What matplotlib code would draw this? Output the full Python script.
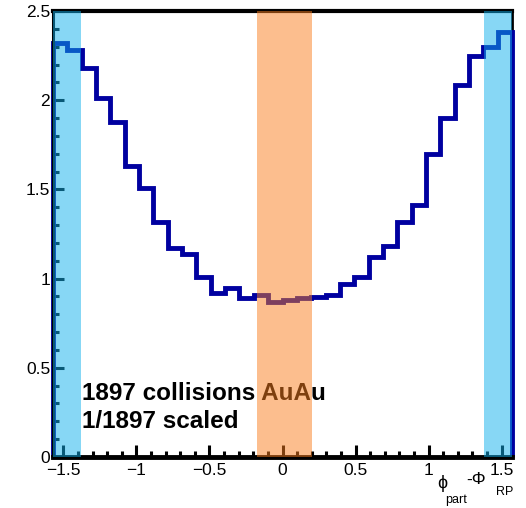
import numpy as np
import matplotlib
matplotlib.use("Agg")
import matplotlib.pyplot as plt
from matplotlib.ticker import MultipleLocator

plt.rcParams['font.family'] = ['Liberation Sans', 'DejaVu Sans']

# ---- data ----
n_bins = 32
x_min, x_max = -np.pi / 2, np.pi / 2
bin_values = [2.32, 2.28, 2.18, 2.01, 1.88, 1.63, 1.51, 1.32, 1.17, 1.14,
              1.01, 0.92, 0.95, 0.89, 0.91, 0.87, 0.88, 0.89, 0.895, 0.91,
              0.97, 1.01, 1.12, 1.18, 1.32, 1.41, 1.70, 1.90, 2.085, 2.25,
              2.30, 2.38]
blue_bands = [(-np.pi / 2, -1.38), (1.38, np.pi / 2)]
orange_band = (-0.175, 0.20)
y_max = 2.5
text_lines = ["1897 collisions AuAu", "1/1897 scaled"]

edges = np.linspace(x_min, x_max, n_bins + 1)

fig = plt.figure(figsize=(5.26, 5.08), dpi=100)
ax = fig.add_axes([53 / 526, 1 - 457 / 508, (512 - 53) / 526, (457 - 11) / 508])

ax.stairs(bin_values, edges, baseline=0, color='#0000a0', lw=3.5, zorder=2,
          clip_on=False)

for lo, hi in blue_bands:
    ax.axvspan(lo, hi, color='#10b0ec', alpha=0.5, lw=0, zorder=3)
ax.axvspan(orange_band[0], orange_band[1], color='#fb7f1f', alpha=0.5, lw=0, zorder=3)

ax.set_xlim(x_min, x_max)
ax.set_ylim(0, y_max)

ax.xaxis.set_major_locator(MultipleLocator(0.5))
ax.xaxis.set_minor_locator(MultipleLocator(0.1))
ax.yaxis.set_major_locator(MultipleLocator(0.5))
ax.yaxis.set_minor_locator(MultipleLocator(0.1))
ax.tick_params(axis='both', which='both', direction='in', color='black',
               top=False, right=False, labelsize=12.5)
ax.tick_params(axis='x', which='major', length=9, width=2.2, pad=4)
ax.tick_params(axis='x', which='minor', length=4.5, width=2.2)
ax.tick_params(axis='y', which='major', length=8, width=2.2, pad=2)
ax.tick_params(axis='y', which='minor', length=4, width=2.2)

ax.xaxis.set_major_formatter(plt.FuncFormatter(
    lambda v, p: ('\u2212' + f'{abs(v):g}') if v < -1e-9 else f'{abs(v):g}'))
ax.yaxis.set_major_formatter(plt.FuncFormatter(lambda v, p: f'{v:g}'))

ax.spines['top'].set_linewidth(3)
ax.spines['bottom'].set_linewidth(3.5)
ax.spines['left'].set_linewidth(2.2)
ax.spines['right'].set_linewidth(2)
for name, s in ax.spines.items():
    s.set_zorder(1.5 if name == 'right' else 2.5)

ax.text(82 / 526, 1 - 393 / 508, text_lines[0], transform=fig.transFigure,
        fontsize=17.5, fontweight='bold', va='center', ha='left', zorder=2)
ax.text(82 / 526, 1 - 422 / 508, text_lines[1], transform=fig.transFigure,
        fontsize=17.5, fontweight='bold', va='center', ha='left', zorder=2)

# x-axis title (ROOT style)
fig.text(442 / 526, 1 - 484 / 508, '\u03d5', fontsize=13, ha='center', va='center')
fig.text(456 / 526, 1 - 500 / 508, 'part', fontsize=9, ha='center', va='center')
fig.text(476 / 526, 1 - 480 / 508, '-\u03a6', fontsize=12.5, ha='center', va='center')
fig.text(505 / 526, 1 - 492 / 508, 'RP', fontsize=9, ha='center', va='center')

fig.savefig('out.png', dpi=100)
